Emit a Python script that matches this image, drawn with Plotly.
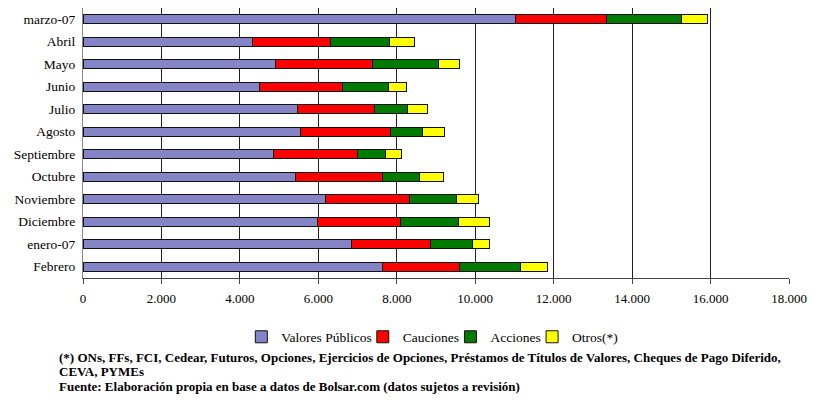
import plotly.graph_objects as go

# Monthly trading volume by instrument (millions of pesos)
meses = ["marzo-07", "Abril", "Mayo", "Junio", "Julio", "Agosto", "Septiembre",
         "Octubre", "Noviembre", "Diciembre", "enero-07", "Febrero"]
valores_publicos = [11030, 4330, 4920, 4510, 5460, 5540, 4860, 5410, 6190, 5990, 6840, 7630]
cauciones = [2310, 1990, 2460, 2110, 1980, 2290, 2140, 2220, 2130, 2110, 2030, 1960]
acciones = [1910, 1500, 1680, 1160, 830, 820, 720, 960, 1200, 1470, 1050, 1560]
otros = [670, 620, 540, 460, 520, 570, 390, 600, 570, 790, 440, 700]

series = [
    ("Valores Públicos", valores_publicos, "#8484C6"),
    ("Cauciones", cauciones, "#FF0000"),
    ("Acciones", acciones, "#007A00"),
    ("Otros(*)", otros, "#FFFF00"),
]

serif = "Liberation Serif"
plot_top, plot_h, plot_left, plot_w = 8, 270, 83, 709

# each series gets its own legend box so the entries sit tightly in one row
legend_ids = ["legend", "legend2", "legend3", "legend4"]
legend_text_x = [282, 404, 492, 574]

fig = go.Figure()
for (nombre, valores, color), lid in zip(series, legend_ids):
    fig.add_trace(go.Bar(
        y=meses, x=valores, name=nombre, orientation="h",
        marker=dict(color=color, line=dict(color="#111111", width=1)),
        width=0.4, legend=lid,
    ))

legend_y = (plot_top + plot_h - 337) / plot_h
legend_layout = {}
for lid, tx in zip(legend_ids, legend_text_x):
    legend_layout[lid] = dict(
        orientation="h", x=(tx - 40 - plot_left) / plot_w, xanchor="left",
        y=legend_y, yanchor="middle",
        font=dict(family=serif, size=13.5, color="black"),
        itemwidth=30, bgcolor="rgba(0,0,0,0)",
    )

fig.update_layout(
    barmode="stack",
    width=815, height=401,
    margin=dict(l=plot_left, r=23, t=plot_top, b=123),
    paper_bgcolor="white", plot_bgcolor="white",
    separators=",.",
    font=dict(family=serif, size=13, color="black"),
    showlegend=True,
    xaxis=dict(
        range=[0, 18000], dtick=2000, tick0=0, tickformat=",d",
        showgrid=True, gridcolor="#222222", gridwidth=1,
        showline=True, linecolor="#444444", linewidth=1,
        ticks="outside", ticklen=5, tickcolor="#444444",
        tickfont=dict(family=serif, size=13),
        ticklabelstandoff=3, zeroline=False,
    ),
    yaxis=dict(
        autorange="reversed", showgrid=False,
        showline=True, linecolor="#888888", linewidth=1,
        ticks="", tickfont=dict(family=serif, size=13.5),
        ticklabelstandoff=4,
    ),
    **legend_layout,
)

notas = [
    ("(*) ONs, FFs, FCI, Cedear, Futuros, Opciones, Ejercicios de Opciones, Préstamos de Títulos de Valores, Cheques de Pago Diferido,", 357),
    ("CEVA, PYMEs", 371),
    ("Fuente: Elaboración propia en base a datos de Bolsar.com (datos sujetos a revisión)", 386),
]
for texto, ypx in notas:
    fig.add_annotation(
        text="<b>" + texto + "</b>", showarrow=False,
        xref="paper", yref="paper",
        x=(57 - plot_left) / plot_w, xanchor="left",
        y=(plot_top + plot_h - ypx) / plot_h, yanchor="middle",
        font=dict(family=serif, size=13, color="black"),
    )

fig.write_html("out.html")
